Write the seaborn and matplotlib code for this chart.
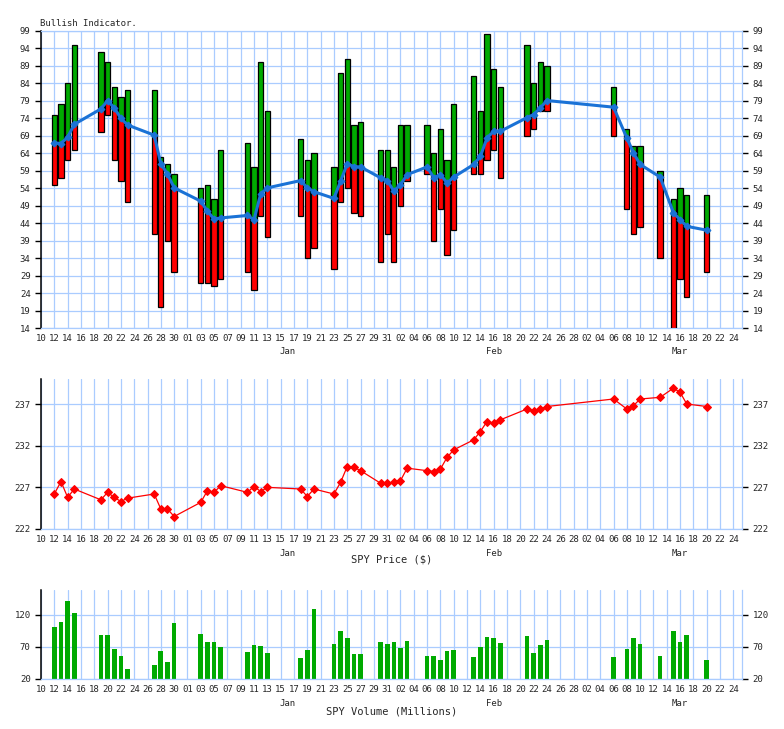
import matplotlib
matplotlib.use("Agg")
import matplotlib.pyplot as plt
import matplotlib.dates as mdates
import seaborn as sns
import pandas as pd
import numpy as np

# trading days shown in all three panels
dates = pd.to_datetime([
    "2016-12-12", "2016-12-13", "2016-12-14", "2016-12-15", "2016-12-19", "2016-12-20",
    "2016-12-21", "2016-12-22", "2016-12-23", "2016-12-27", "2016-12-28", "2016-12-29",
    "2016-12-30",
    "2017-01-03", "2017-01-04", "2017-01-05", "2017-01-06", "2017-01-10", "2017-01-11",
    "2017-01-12", "2017-01-13", "2017-01-18", "2017-01-19", "2017-01-20", "2017-01-23",
    "2017-01-24", "2017-01-25", "2017-01-26", "2017-01-27", "2017-01-30", "2017-01-31",
    "2017-02-01", "2017-02-02", "2017-02-03", "2017-02-06", "2017-02-07", "2017-02-08",
    "2017-02-09", "2017-02-10", "2017-02-13", "2017-02-14", "2017-02-15", "2017-02-16",
    "2017-02-17", "2017-02-21", "2017-02-22", "2017-02-23", "2017-02-24",
    "2017-03-06", "2017-03-08", "2017-03-09", "2017-03-10", "2017-03-13", "2017-03-15",
    "2017-03-16", "2017-03-17", "2017-03-20",
])

bull_high = [75, 78, 84, 95, 93, 90, 83, 80, 82, 82, 63, 61, 58,
             54, 55, 51, 65, 67, 60, 90, 76, 68, 62, 64, 60, 87, 91, 72, 73, 65, 65,
             60, 72, 72, 72, 64, 71, 62, 78, 86, 76, 98, 88, 83, 95, 84, 90, 89,
             83, 71, 66, 66, 59, 51, 54, 52, 52]
bull_low = [55, 57, 62, 65, 70, 75, 62, 56, 50, 41, 20, 39, 30,
            27, 27, 26, 28, 30, 25, 46, 40, 46, 34, 37, 31, 50, 54, 47, 46, 33, 41,
            33, 49, 56, 58, 39, 48, 35, 42, 58, 58, 62, 65, 57, 69, 71, 76, 76,
            69, 48, 41, 43, 34, 14, 28, 23, 30]
bull_value = [67, 66.8, 68.6, 72.3, 76.7, 79.1, 77, 74, 72.1, 69.2, 61, 58.1, 54.1,
              50.3, 47.4, 45.2, 45.5, 46.2, 45, 52.4, 54.1, 56.2, 54.1, 53, 51.1, 56, 61,
              60.2, 60.1, 57, 56.2,
              53.2, 55, 57.9, 60.1, 57, 57.9, 55.5, 57.2, 60.8, 63.1, 68.4, 70.3, 70.3,
              74.2, 75.1, 77, 79.1,
              77.2, 68.4, 64.1, 60.8, 57.2, 47, 45, 43.1, 42]

spy_price = [226.2, 227.7, 225.8, 226.8, 225.5, 226.4, 225.8, 225.3, 225.7, 226.2, 224.4,
             224.4, 223.5,
             225.2, 226.6, 226.4, 227.2, 226.4, 227.1, 226.5, 227.0, 226.8, 225.9, 226.8,
             226.2, 227.6, 229.5, 229.4, 229.0, 227.5, 227.5,
             227.6, 227.8, 229.3, 229.0, 228.9, 229.2, 230.6, 231.5, 232.7, 233.7, 234.9,
             234.7, 235.1, 236.4, 236.2, 236.4, 236.7,
             237.6, 236.4, 236.8, 237.6, 237.8, 238.9, 238.4, 237.0, 236.7]

spy_volume = [101, 109, 142, 123, 89, 89, 67, 56, 36, 42, 64, 47, 107,
              90, 78, 78, 70, 62, 73, 72, 61, 53, 65, 129, 75, 95, 84, 59, 59, 78, 75,
              78, 68, 79, 56, 56, 50, 64, 65, 54, 70, 86, 84, 76, 87, 61, 73, 81,
              54, 67, 84, 75, 56, 95, 78, 89, 50]

month_names = ["Jan", "Feb", "Mar"]
month_label_dates = pd.to_datetime(["2017-01-16", "2017-02-16", "2017-03-16"])

GRID = "#aaccff"
GREEN = "#00aa00"
RED = "#ff0000"
BLUE = "#1a72d6"
MONO = ["DejaVu Sans Mono", "DejaVu Sans"]

sns.set_style("white")
plt.rcParams["font.family"] = MONO

x = mdates.date2num(dates)
high = np.array(bull_high, dtype=float)
low = np.array(bull_low, dtype=float)
val = np.array(bull_value, dtype=float)

start = mdates.date2num(pd.Timestamp("2016-12-10"))
xticks = mdates.date2num(pd.date_range("2016-12-10", "2017-03-24", freq="2D"))

fig = plt.figure(figsize=(7.84, 7.29), dpi=100)
W, H = 784.0, 729.0
left, right = 41 / W, 742 / W


def make_ax(top_px, bot_px):
    return fig.add_axes([left, 1 - bot_px / H, right - left, (bot_px - top_px) / H])


def style_ax(ax, yticks, ylim, top_line=True):
    ax.set_xlim(start, start + 105.3)
    ax.set_ylim(*ylim)
    ax.set_xticks(xticks)
    ax.xaxis.set_major_formatter(mdates.DateFormatter("%d"))
    ax.set_yticks(yticks)
    ax.grid(True, color=GRID, linewidth=0.9)
    ax.set_axisbelow(True)
    for s in ["top", "right", "bottom"]:
        ax.spines[s].set_color(GRID)
        ax.spines[s].set_linewidth(0.9)
    ax.spines["top"].set_visible(top_line)
    ax.spines["left"].set_color("black")
    ax.spines["left"].set_linewidth(1.1)
    ax.tick_params(axis="y", which="both", left=True, right=True, labelleft=True,
                   labelright=True, direction="out", length=4, width=1,
                   color="black", pad=3.5, labelsize=6.5)
    ax.tick_params(axis="x", direction="out", length=3.5, width=1, color="black",
                   pad=1, labelsize=6.5)
    ax.set_xlabel("")
    ax.set_ylabel("")
    for name, d in zip(month_names, month_label_dates):
        ax.annotate(name, xy=(mdates.date2num(d), 0), xycoords=("data", "axes fraction"),
                    xytext=(0, -24), textcoords="offset pixels", ha="center", va="center",
                    fontsize=6.5)


# --- Bullish indicator panel ---
ax1 = make_ax(31, 328)
ax1.bar(x, val - low, bottom=low, width=0.8, color=RED, linewidth=0, zorder=2)
ax1.bar(x, high - val, bottom=val, width=0.8, color=GREEN, linewidth=0, zorder=2)
ax1.bar(x, high - low, bottom=low, width=0.8, fill=False, edgecolor="black",
        linewidth=0.9, zorder=3)
sns.lineplot(x=x, y=val, ax=ax1, color=BLUE, linewidth=2.2, marker="D", markersize=3.5,
             markeredgecolor=BLUE, zorder=4)
style_ax(ax1, np.arange(14, 100, 5), (14, 99))
fig.text(40 / W, 1 - 23 / H, "Bullish Indicator.", fontsize=6.5, va="center", ha="left")

# --- SPY price panel ---
ax2 = make_ax(379, 529)
sns.lineplot(x=x, y=spy_price, ax=ax2, color=RED, linewidth=0.9, marker="D",
             markersize=4.5, markeredgecolor=RED, zorder=4)
style_ax(ax2, [222, 227, 232, 237], (222, 240), top_line=False)
fig.text(0.5, 1 - 560 / H, "SPY Price ($)", fontsize=7.5, ha="center", va="center")

# --- SPY volume panel ---
ax3 = make_ax(590, 679)
ax3.bar(x, np.array(spy_volume) - 20, bottom=20, width=0.7, color=GREEN, linewidth=0,
        zorder=2)
style_ax(ax3, [20, 70, 120], (20, 159), top_line=False)
fig.text(0.5, 1 - 711 / H, "SPY Volume (Millions)", fontsize=7.5, ha="center", va="center")

fig.savefig("out.png", dpi=100)
